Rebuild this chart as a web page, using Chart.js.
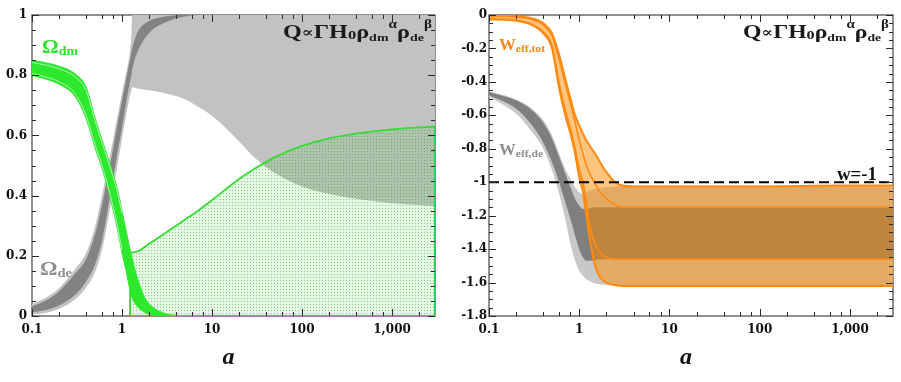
<!DOCTYPE html>
<html>
<head>
<meta charset="utf-8">
<script src="https://cdn.jsdelivr.net/npm/chart.js@4.4.0/dist/chart.umd.min.js"></script>
<style>
  html, body { margin: 0; padding: 0; background: #fff; }
  #wrap { position: relative; width: 901px; height: 382px; }
  #left { position: absolute; left: 0; top: 0; }
  #right { position: absolute; left: 450px; top: 0; }
</style>
</head>
<body>
<div id="wrap">
  <canvas id="left" width="450" height="382"></canvas>
  <canvas id="right" width="451" height="382"></canvas>
</div>
<script>
// axes
const X_TICKS = [0.1, 0.2, 0.4, 0.6, 0.8, 1, 2, 4, 6, 8, 10, 20, 40, 60, 80, 100, 200, 400, 600, 800, 1000, 2000];
const X_MAJOR = [0.1, 1, 10, 100, 1000];
const X_LABELS = ['0.1', '1', '10', '100', '1,000'];
const Y1_MAJOR = [0, 0.2, 0.4, 0.6, 0.8, 1];
const Y1_LABELS = ['0', '0.2', '0.4', '0.6', '0.8', '1'];
const Y2_MAJOR = [0, -0.2, -0.4, -0.6, -0.8, -1, -1.2, -1.4, -1.6, -1.8];
const Y2_LABELS = ['0', '-0.2', '-0.4', '-0.6', '-0.8', '-1', '-1.2', '-1.4', '-1.6', '-1.8'];

// left panel: Omega_dm band
const aDm = [0.1, 0.15, 0.2, 0.3, 0.4, 0.5, 0.6, 0.7, 0.8, 0.9, 1.0, 1.1, 1.2, 1.3, 1.5, 1.8, 2, 3, 4, 5];
const dmHi = [0.85, 0.84, 0.83, 0.805, 0.76, 0.66, 0.585, 0.525, 0.47, 0.415, 0.35, 0.29, 0.235, 0.19, 0.12, 0.06, 0.04, 0.008, 0.002, 0];
const dmLo = [0.80, 0.785, 0.77, 0.73, 0.655, 0.56, 0.49, 0.42, 0.35, 0.28, 0.21, 0.155, 0.10, 0.06, 0.03, 0.012, 0.006, 0, 0, 0];
const aDmIn = [0.1, 0.15, 0.2, 0.3, 0.4, 0.5, 0.6, 0.7, 0.8, 0.9, 1.0];
const dmInHi = [0.842, 0.832, 0.821, 0.795, 0.748, 0.65, 0.575, 0.515, 0.46, 0.405, 0.34];
const dmInLo = [0.806, 0.792, 0.778, 0.739, 0.665, 0.57, 0.50, 0.43, 0.36, 0.29, 0.22];

// left panel: Omega_de bands
const aDe = [0.1, 0.15, 0.2, 0.3, 0.4, 0.5, 0.6, 0.7, 0.8, 0.9, 1.0, 1.1, 1.2, 1.27, 1.3, 1.5, 2, 3, 5, 7, 10, 20, 30, 50, 100, 200, 500, 1000, 3000];
const deDarkHi = [0.032, 0.055, 0.082, 0.14, 0.19, 0.27, 0.37, 0.47, 0.56, 0.645, 0.715, 0.78, 0.84, 0.875, 0.89, 0.945, 0.98, 0.995, 1, 1, 1, 1, 1, 1, 1, 1, 1, 1, 1];
const deDarkLo = [0.012, 0.022, 0.035, 0.07, 0.115, 0.17, 0.25, 0.36, 0.46, 0.55, 0.625, 0.70, 0.765, 0.80, 0.82, 0.88, 0.94, 0.975, 0.995, 1, 1, 1, 1, 1, 1, 1, 1, 1, 1];
const deLightHi = [0.04, 0.065, 0.092, 0.155, 0.21, 0.295, 0.40, 0.50, 0.59, 0.67, 0.74, 0.80, 0.86, 0.93, 1, 1, 1, 1, 1, 1, 1, 1, 1, 1, 1, 1, 1, 1, 1];
const deLightLo = [0.004, 0.012, 0.024, 0.055, 0.095, 0.145, 0.22, 0.32, 0.42, 0.51, 0.59, 0.66, 0.72, 0.75, 0.76, 0.755, 0.75, 0.74, 0.72, 0.695, 0.665, 0.58, 0.525, 0.475, 0.43, 0.405, 0.385, 0.375, 0.365];

// left panel: dotted green region
const aReg = [1.23, 1.5, 2, 3, 5, 7, 10, 20, 30, 50, 100, 200, 500, 1000, 3000];
const regHi = [0.21, 0.215, 0.24, 0.275, 0.32, 0.35, 0.385, 0.455, 0.49, 0.528, 0.565, 0.59, 0.61, 0.62, 0.63];
const regEdgeX = [1.23, 1.23, 3000, 3000];
const regEdgeY = [0.21, 0, 0, 0.63];

// right panel
const aR = [0.1, 0.2, 0.3, 0.4, 0.5, 0.6, 0.7, 0.8, 0.9, 1.0, 1.1, 1.2, 1.3, 1.5, 1.7, 2, 2.5, 3, 4, 6, 10, 30, 100, 300, 1000, 3000];
const wdeLightHi = [-0.455, -0.505, -0.56, -0.63, -0.72, -0.83, -0.92, -0.98, -1.03, -1.06, -1.07, -1.06, -1.05, -1.04, -1.035, -1.03, -1.025, -1.02, -1.02, -1.02, -1.02, -1.02, -1.02, -1.02, -1.02, -1.02];
const wdeLightLo = [-0.49, -0.59, -0.70, -0.80, -0.93, -1.07, -1.22, -1.37, -1.47, -1.53, -1.56, -1.58, -1.59, -1.605, -1.61, -1.615, -1.62, -1.62, -1.62, -1.62, -1.62, -1.62, -1.62, -1.62, -1.62, -1.62];
const wdeDarkHi = [-0.46, -0.51, -0.57, -0.645, -0.74, -0.85, -0.95, -1.03, -1.10, -1.14, -1.16, -1.16, -1.155, -1.15, -1.15, -1.15, -1.15, -1.15, -1.15, -1.15, -1.15, -1.15, -1.15, -1.15, -1.15, -1.15];
const wdeDarkLo = [-0.48, -0.56, -0.66, -0.765, -0.88, -1.0, -1.12, -1.22, -1.32, -1.40, -1.45, -1.47, -1.47, -1.465, -1.46, -1.46, -1.46, -1.46, -1.46, -1.46, -1.46, -1.46, -1.46, -1.46, -1.46, -1.46];
const wtotOutHi = [-0.003, -0.008, -0.02, -0.05, -0.11, -0.24, -0.38, -0.50, -0.60, -0.66, -0.71, -0.75, -0.78, -0.83, -0.88, -0.94, -1.0, -1.02, -1.025, -1.025, -1.025, -1.025, -1.025, -1.022, -1.02, -1.02];
const wtotOutLo = [-0.025, -0.035, -0.06, -0.11, -0.20, -0.44, -0.60, -0.71, -0.83, -0.97, -1.06, -1.2, -1.33, -1.5, -1.57, -1.60, -1.615, -1.62, -1.62, -1.62, -1.62, -1.62, -1.62, -1.62, -1.62, -1.62];
const wtotInHi = [-0.006, -0.012, -0.027, -0.06, -0.125, -0.27, -0.41, -0.53, -0.64, -0.75, -0.83, -0.90, -0.945, -1.01, -1.06, -1.10, -1.135, -1.15, -1.15, -1.15, -1.15, -1.15, -1.15, -1.15, -1.15, -1.15];
const wtotInLo = [-0.02, -0.03, -0.055, -0.10, -0.185, -0.41, -0.57, -0.68, -0.80, -0.92, -1.0, -1.12, -1.25, -1.37, -1.42, -1.45, -1.46, -1.46, -1.46, -1.46, -1.46, -1.46, -1.46, -1.46, -1.46, -1.46];
const wLineX = [0.1, 3000];
const wLineY = [-1, -1];

const SERIF = '"Liberation Serif", "DejaVu Serif", serif';

function ds(xs, ys, extra) {
  return Object.assign({
    data: xs.map((x, i) => ({ x: x, y: ys[i] })),
    pointRadius: 0,
    pointHoverRadius: 0,
    cubicInterpolationMode: 'monotone',
    borderWidth: 0,
    borderColor: 'rgba(0,0,0,0)',
    fill: false
  }, extra);
}

function dotPattern() {
  const c = document.createElement('canvas');
  c.width = 3; c.height = 3;
  const g = c.getContext('2d');
  g.fillStyle = 'rgba(60,200,60,0.14)';
  g.fillRect(0, 0, 3, 3);
  g.fillStyle = 'rgba(20,150,20,0.45)';
  g.fillRect(1, 1, 1, 1);
  return g.createPattern(c, 'repeat');
}

// text with sub/superscripts, stretched to a given width
function richText(ctx, parts, x, y, width, color) {
  ctx.save();
  ctx.fillStyle = color;
  ctx.textBaseline = 'alphabetic';
  ctx.textAlign = 'left';
  let w = 0;
  parts.forEach(p => {
    ctx.font = 'bold ' + p[1] + 'px ' + SERIF;
    w += ctx.measureText(p[0]).width;
  });
  ctx.translate(x, y);
  ctx.scale(width / w, 1);
  let cx = 0;
  parts.forEach(p => {
    ctx.font = 'bold ' + p[1] + 'px ' + SERIF;
    ctx.fillText(p[0], cx, p[2] || 0);
    cx += ctx.measureText(p[0]).width;
  });
  ctx.restore();
}

const TITLE = [['Q', 19], ['\u221D', 14, -1], ['\u0393', 19], ['H', 19], ['0', 13, 1], ['\u03C1', 19], ['dm', 11, 3], ['\u03B1', 12, -10], ['\u03C1', 19], ['de', 11, 3], ['\u03B2', 12, -10]];

function frameTicks(yMajor) {
  return {
    id: 'frameTicks',
    beforeDatasetsDraw(chart) {
      const { ctx, chartArea: ca } = chart;
      ctx.save();
      ctx.strokeStyle = '#6b6b6b';
      ctx.lineWidth = 1.5;
      ctx.strokeRect(ca.left, ca.top, ca.right - ca.left, ca.bottom - ca.top);
      ctx.restore();
    },
    afterDatasetsDraw(chart) {
      const { ctx, chartArea: ca } = chart;
      const x = chart.scales.x, y = chart.scales.y;
      ctx.save();
      ctx.strokeStyle = '#2a2a2a';
      ctx.lineWidth = 1;
      ctx.beginPath();
      X_TICKS.forEach(v => {
        const px = Math.round(x.getPixelForValue(v)) + 0.5;
        const len = X_MAJOR.includes(v) ? 7 : 4;
        ctx.moveTo(px, ca.bottom); ctx.lineTo(px, ca.bottom - len);
        ctx.moveTo(px, ca.top); ctx.lineTo(px, ca.top + len);
      });
      for (let k = 0; ; k++) {
        const v = y.min + k * 0.05;
        if (v > y.max + 1e-9) break;
        const py = Math.round(y.getPixelForValue(v)) + 0.5;
        const len = yMajor.some(m => Math.abs(m - v) < 1e-6) ? 7 : 4;
        ctx.moveTo(ca.left, py); ctx.lineTo(ca.left + len, py);
        ctx.moveTo(ca.right, py); ctx.lineTo(ca.right - len, py);
      }
      ctx.stroke();
      ctx.restore();
    }
  };
}

function makeChart(id, datasets, yMin, yMax, yMajor, yLabels, padRight, yWidth, yPad, notes) {
  return new Chart(document.getElementById(id), {
    type: 'line',
    data: { datasets: datasets },
    options: {
      responsive: false,
      animation: false,
      events: [],
      layout: { padding: { top: 15, right: padRight, left: 0, bottom: 0 } },
      plugins: { legend: { display: false }, tooltip: { enabled: false } },
      scales: {
        x: {
          type: 'logarithmic',
          min: 0.1,
          max: 3000,
          afterBuildTicks: s => { s.ticks = X_TICKS.map(v => ({ value: v })); },
          afterFit: s => { s.height = 66; s.paddingLeft = 0; s.paddingRight = 0; },
          grid: { display: false, drawTicks: false },
          border: { display: false },
          ticks: {
            autoSkip: false, maxRotation: 0, minRotation: 0, padding: 7, color: '#111',
            font: { family: "'DejaVu Serif'", weight: 'bold', size: 12 },
            callback: v => { const i = X_MAJOR.indexOf(v); return i >= 0 ? X_LABELS[i] : ''; }
          }
        },
        y: {
          type: 'linear',
          min: yMin,
          max: yMax,
          afterBuildTicks: s => { s.ticks = yMajor.map(v => ({ value: v })); },
          afterFit: s => { s.width = yWidth; s.paddingTop = 0; s.paddingBottom = 0; },
          grid: { display: false, drawTicks: false },
          border: { display: false },
          ticks: {
            autoSkip: false, padding: yPad, color: '#111',
            font: { family: "'DejaVu Serif'", weight: 'bold', size: 12 },
            callback: v => { const i = yMajor.findIndex(m => Math.abs(m - v) < 1e-6); return i >= 0 ? yLabels[i] : ''; }
          }
        }
      }
    },
    plugins: [frameTicks(yMajor), notes]
  });
}

function axisTitle(chart) {
  const { ctx, chartArea: ca } = chart;
  ctx.save();
  ctx.fillStyle = '#111';
  ctx.font = 'italic bold 24px ' + SERIF;
  ctx.textAlign = 'center';
  ctx.fillText('a', (ca.left + ca.right) / 2 - 5, 364);
  ctx.restore();
}

// ---------- left panel ----------
const GREEN = '#2ee82e';
const leftSets = [
  ds(aDe, deLightHi, { fill: 1, backgroundColor: '#c2c2c2', order: 10 }),
  ds(aDe, deLightLo, { order: 10 }),
  ds(aDe, deDarkHi, { fill: 3, backgroundColor: '#838383', order: 9 }),
  ds(aDe, deDarkLo, { order: 9 }),
  ds(aReg, regHi, { fill: 'origin', backgroundColor: dotPattern(), borderColor: '#33dd33', borderWidth: 1.8, order: 8 }),
  ds(regEdgeX, regEdgeY, { cubicInterpolationMode: 'default', tension: 0, borderColor: '#33dd33', borderWidth: 1.8, order: 8 }),
  ds(aDm, dmHi, { fill: 7, backgroundColor: GREEN, borderColor: GREEN, borderWidth: 1, order: 6 }),
  ds(aDm, dmLo, { borderColor: GREEN, borderWidth: 1, order: 6 }),
  ds(aDmIn, dmInHi, { borderColor: 'rgba(255,255,255,0.75)', borderWidth: 0.8, order: 5 }),
  ds(aDmIn, dmInLo, { borderColor: 'rgba(255,255,255,0.75)', borderWidth: 0.8, order: 5 })
];

const leftNotes = {
  id: 'leftNotes',
  afterDraw(chart) {
    const ctx = chart.ctx, ca = chart.chartArea;
    richText(ctx, TITLE, ca.right - 152, 38, 149, '#1a1a1a');
    richText(ctx, [['\u03A9', 18], ['dm', 12, 2]], 42, 53, 36, '#2fe02f');
    richText(ctx, [['\u03A9', 18], ['de', 12, 2]], 40, 275, 32, '#8e8e8e');
    axisTitle(chart);
  }
};

makeChart('left', leftSets, 0, 1, Y1_MAJOR, Y1_LABELS, 15, 32, 5, leftNotes);

// ---------- right panel ----------
const ORANGE = '#ff8a12';
const rightSets = [
  ds(aR, wdeLightHi, { fill: 1, backgroundColor: '#c8c8c8', order: 10 }),
  ds(aR, wdeLightLo, { order: 10 }),
  ds(aR, wdeDarkHi, { fill: 3, backgroundColor: '#7f7f7f', order: 9 }),
  ds(aR, wdeDarkLo, { order: 9 }),
  ds(aR, wtotOutHi, { fill: 5, backgroundColor: 'rgba(255,140,0,0.5)', borderColor: ORANGE, borderWidth: 2, order: 8 }),
  ds(aR, wtotOutLo, { borderColor: ORANGE, borderWidth: 2, order: 8 }),
  ds(aR, wtotInHi, { borderColor: ORANGE, borderWidth: 1.6, order: 7 }),
  ds(aR, wtotInLo, { borderColor: ORANGE, borderWidth: 1.6, order: 7 }),
  ds(wLineX, wLineY, { cubicInterpolationMode: 'default', tension: 0, borderColor: '#000', borderWidth: 2, borderDash: [10, 5], order: 1 })
];

const rightNotes = {
  id: 'rightNotes',
  afterDraw(chart) {
    const ctx = chart.ctx, ca = chart.chartArea;
    richText(ctx, TITLE, ca.right - 150, 38, 146, '#1a1a1a');
    richText(ctx, [['W', 16], ['eff,tot', 11, 2]], 49, 50, 46, '#f3861a');
    richText(ctx, [['W', 16], ['eff,de', 11, 2]], 49, 155, 44, '#8e8e8e');
    richText(ctx, [['w=-1', 18]], 387, 180, 40, '#111');
    axisTitle(chart);
  }
};

makeChart('right', rightSets, -1.8, 0, Y2_MAJOR, Y2_LABELS, 8, 39, 2, rightNotes);
</script>
</body>
</html>
